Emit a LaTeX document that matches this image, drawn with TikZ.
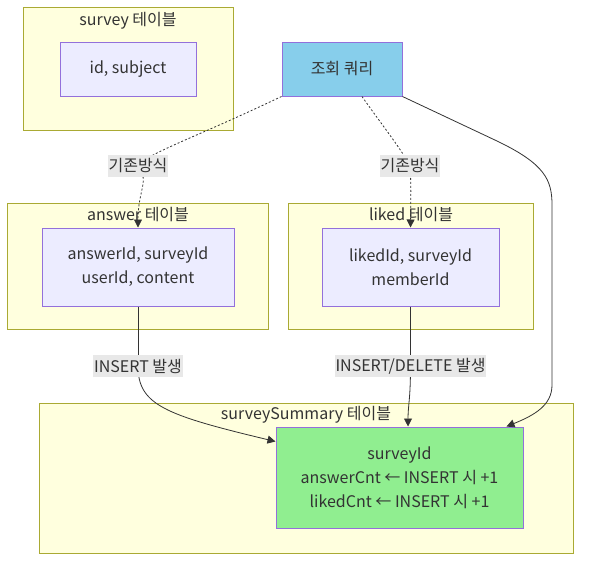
\documentclass[tikz,border=0pt]{standalone}
\usepackage{fontspec}
\setmainfont{Noto Sans CJK KR}
\usetikzlibrary{arrows.meta}

\definecolor{tblfill}{RGB}{255,255,222}
\definecolor{tbldraw}{RGB}{170,170,51}
\definecolor{colfill}{RGB}{236,236,255}
\definecolor{coldraw}{RGB}{147,112,219}
\definecolor{queryfill}{RGB}{135,206,235}
\definecolor{sumfill}{RGB}{144,238,144}
\definecolor{txt}{RGB}{51,51,51}
\definecolor{lblfill}{RGB}{232,232,232}

\begin{document}
\begin{tikzpicture}[x=0.75pt,y=0.75pt,yscale=-1,xscale=1,
	font=\fontsize{12}{18}\selectfont, text=txt,
	table/.style={draw=tbldraw, fill=tblfill, line width=0.75pt, inner sep=0pt},
	cols/.style={draw=coldraw, fill=colfill, line width=0.75pt, align=center, inner sep=0pt},
	ttl/.style={inner sep=0pt},
	elabel/.style={fill=lblfill, inner xsep=0.5pt, inner ysep=1.5pt, minimum height=17pt},
	edge/.style={draw=txt, line width=0.6pt, -{Triangle[length=6pt,width=6pt]}},
	dotedge/.style={edge, dash pattern=on 1.5pt off 1.5pt}]
	\useasboundingbox (0,0) rectangle (589,568);
	
	% Tables
	\node [table, minimum width=157.5pt, minimum height=92.25pt] (surveyT) at (128,68.5) {};
	\node [table, minimum width=195.75pt, minimum height=94.5pt] (answerT) at (137.5,266) {};
	\node [table, minimum width=183.75pt, minimum height=94.5pt] (likedT) at (410.5,266) {};
	\node [table, minimum width=400.5pt, minimum height=112.5pt] (summaryT) at (306,478) {};
	
	% Table titles
	\node [ttl] (surveyTtl) at (128,21) {survey 테이블};
	\node [ttl] (answerTtl) at (138,215) {answer 테이블};
	\node [ttl] (likedTtl) at (411,215) {liked 테이블};
	\node [ttl] (summaryTtl) at (306,415) {surveySummary 테이블};
	
	% Columns
	\node [cols, minimum width=102pt, minimum height=40.5pt] (surveyIn) at (128,69) {id, subject};
	\node [cols, fill=queryfill, minimum width=90pt, minimum height=40.5pt] (query) at (342,69) {조회 쿼리};
	\node [cols, minimum width=144pt, minimum height=58.5pt] (answerIn) at (138,267) {answerId, surveyId\\userId, content};
	\node [cols, minimum width=132.75pt, minimum height=58.5pt] (likedIn) at (410.5,267) {likedId, surveyId\\memberId};
	\node [cols, fill=sumfill, minimum width=185.25pt, minimum height=75.75pt] (summaryIn) at (399.5,477.5) {surveyId\\answerCnt ← INSERT 시 +1\\likedCnt ← INSERT 시 +1};
	
	% Label points
	\coordinate (l1) at (138,166);
	\coordinate (l2) at (410,166);
	\coordinate (l3) at (138,366);
	\coordinate (l4) at (410.5,366);
	
	%Curve Lines
	\draw [dotedge, -] (query.south west) .. controls (190,140) and (150,152) .. (l1);
	\draw [dotedge] (l1) .. controls (150,180) and (138,190) .. (answerIn.north);
	\draw [dotedge, -] ([xshift=15pt]query.south) .. controls (382,125) and (402,150) .. (l2);
	\draw [dotedge] (l2) .. controls (411,185) .. (likedIn.north);
	\draw [edge] (query.south east) -- (497,141) .. controls (545,164) and (552,180) .. (552,205) -- (552,385) .. controls (552,405) and (535,415) .. ([xshift=-12.75pt]summaryIn.north east);
	\draw [edge, -] (answerIn.south) -- (l3);
	\draw [edge] (l3) .. controls (138,405) and (165,415) .. ([yshift=11.25pt]summaryIn.north west);
	\draw [edge, -] (likedIn.south) -- (l4);
	\draw [edge] (l4) .. controls (410.5,400) and (408,405) .. ([xshift=6.4pt]summaryIn.north);
	
	% Text Node
	\node [elabel] (lbl1) at (l1) {기존방식};
	% Text Node
	\node [elabel] (lbl2) at (l2) {기존방식};
	% Text Node
	\node [elabel] (lbl3) at (l3) {INSERT 발생};
	% Text Node
	\node [elabel] (lbl4) at (l4) {INSERT/DELETE 발생};
	
\end{tikzpicture}
\end{document}
